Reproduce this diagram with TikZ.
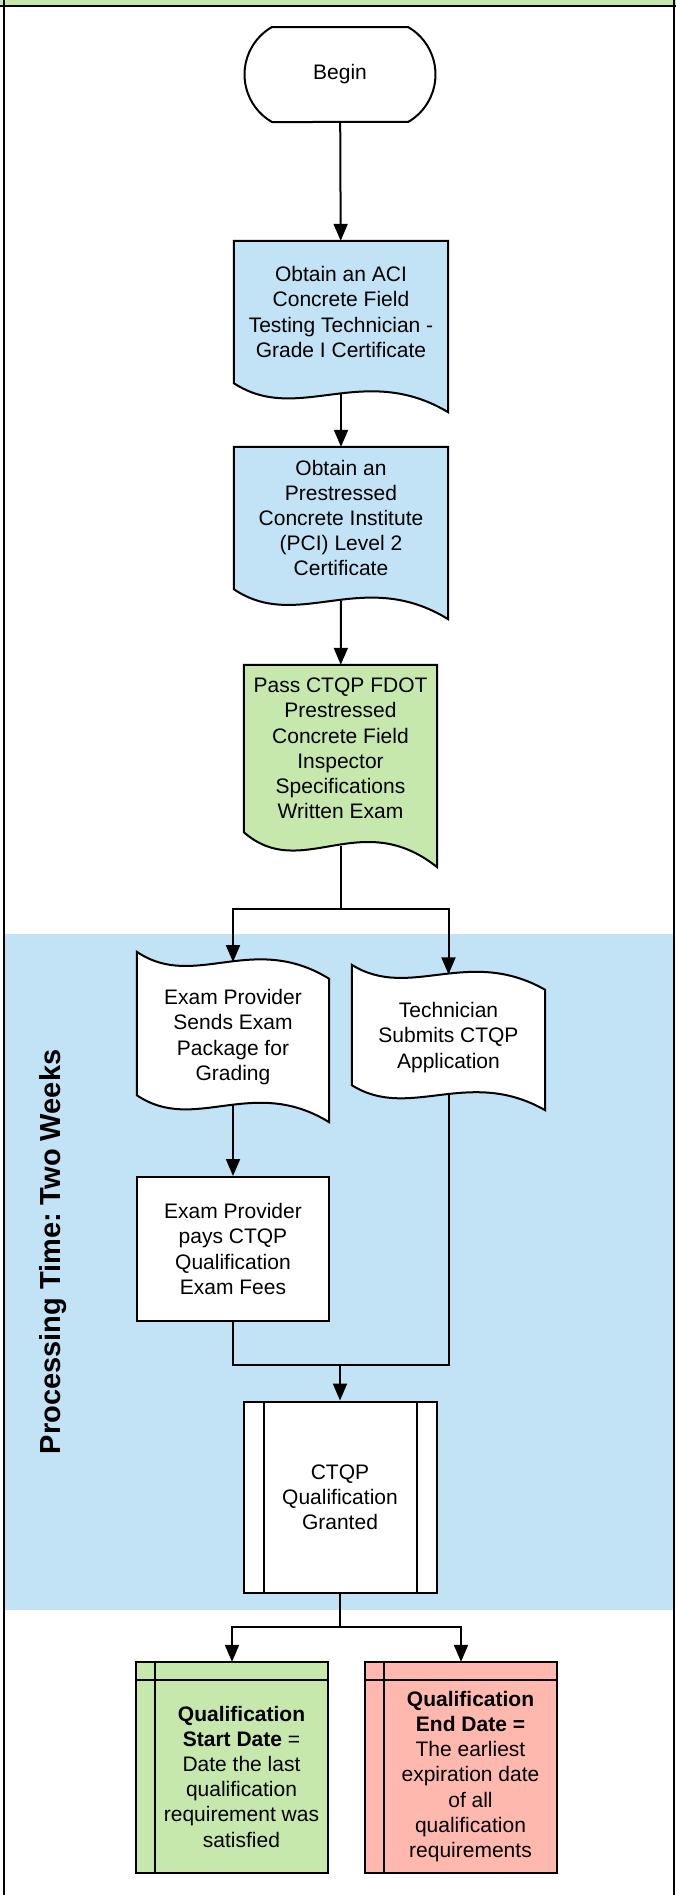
\documentclass[tikz,border=0pt]{standalone}
\usepackage{fontspec}
\setmainfont{Liberation Sans}
\usetikzlibrary{shapes.misc, calc, backgrounds, arrows.meta}
\frenchspacing

\definecolor{bandblue}{HTML}{C2E3F5}
\definecolor{passgreen}{HTML}{C7E8AC}
\definecolor{endred}{HTML}{FFB8AD}

% wavy bottom: node, fill, wave height
\newcommand{\docshape}[3]{%
  \draw[line width=2pt, fill=#2] (#1.north west) -- (#1.north east) -- ($(#1.south east)+(0,#3)$)
    .. controls ($(#1.south west)!0.6!(#1.south east)+(0,-0.76*#3)$) and ($(#1.south west)!0.3!(#1.south east)+(0,1.45*#3)$) .. (#1.south west) -- cycle;
  \coordinate (#1-out) at ($(#1.south)+(0,0.38*#3)$);
}
% wavy top and bottom: node, wave height
\newcommand{\tapeshape}[2]{%
  \draw[line width=2pt, fill=white] (#1.north west)
    .. controls ($(#1.north west)!0.3!(#1.north east)+(0,1.45*#2)$) and ($(#1.north west)!0.6!(#1.north east)+(0,-0.76*#2)$) .. ($(#1.north east)+(0,#2)$)
    -- (#1.south east)
    .. controls ($(#1.south west)!0.6!(#1.south east)+(0,-1.76*#2)$) and ($(#1.south west)!0.3!(#1.south east)+(0,0.45*#2)$) .. ($(#1.south west)+(0,-#2)$) -- cycle;
  \coordinate (#1-in) at ($(#1.north)+(0,0.38*#2)$);
  \coordinate (#1-out) at ($(#1.south)+(0,-0.62*#2)$);
}
% storage frame round the text area: node, fill
\newcommand{\storeframe}[2]{%
  \draw[line width=2pt, fill=#2] ($(#1.north west)+(-19,-18)$) rectangle (#1.south east);
  \draw[line width=2pt] ($(#1.north west)+(-19,0)$) -- (#1.north east);
  \draw[line width=2pt] ($(#1.north west)+(0,-18)$) -- (#1.south west);
  \coordinate (#1-in) at ($(#1.north)+(-9.5,-18)$);
}

\tikzset{
  txt/.style={align=center, inner sep=0pt, font=\fontsize{21}{25.2}\selectfont},
  box/.style={txt, draw, line width=2pt, fill=white},
  term/.style={box, rounded rectangle, rounded rectangle arc length=120, minimum width=191pt, minimum height=95pt},
  predef/.style={box, minimum width=193pt, minimum height=191pt,
    path picture={
      \draw[line width=2pt] ([xshift=20pt]path picture bounding box.north west) -- ([xshift=20pt]path picture bounding box.south west);
      \draw[line width=2pt] ([xshift=-20pt]path picture bounding box.north east) -- ([xshift=-20pt]path picture bounding box.south east);
    }},
  arr/.style={line width=2pt, -{Triangle[length=17pt,width=14pt]}},
  link/.style={line width=2pt}
}

\begin{document}
\begin{tikzpicture}[x=1pt, y=-1pt]
  \useasboundingbox (0,0) rectangle (676,1895);

  % nodes
  \node[term] (begin) at (340,74.5) {Begin};
  \node[txt, minimum width=214pt, minimum height=142pt] (aci) at (341,312)
    {Obtain an ACI\\Concrete Field\\Testing Technician -\\Grade I Certificate};
  \node[txt, minimum width=214pt, minimum height=142pt] (pci) at (341,518)
    {Obtain an\\Prestressed\\Concrete Institute\\(PCI) Level 2\\Certificate};
  \node[txt, minimum width=193pt, minimum height=167pt] (exam) at (340.5,748.5)
    {Pass CTQP FDOT\\Prestressed\\Concrete Field\\Inspector\\Specifications\\Written Exam};
  \node[txt, minimum width=192pt, minimum height=170pt] (sends) at (233,1037)
    {Exam Provider\\Sends Exam\\Package for\\Grading};
  \node[txt, minimum width=193pt, minimum height=145pt] (submits) at (448.5,1037.5)
    {Technician\\Submits CTQP\\Application};
  \node[box, minimum width=192pt, minimum height=144pt] (fees) at (233,1249)
    {Exam Provider\\pays CTQP\\Qualification\\Exam Fees};
  \node[predef] (granted) at (340,1497) {CTQP\\Qualification\\Granted};
  \node[txt, minimum width=173pt, minimum height=193pt] (startq) at (241.5,1776.5)
    {\textbf{Qualification}\\\textbf{Start Date} =\\Date the last\\qualification\\requirement was\\satisfied};
  \node[txt, minimum width=173pt, minimum height=193pt] (endq) at (470.5,1776.5)
    {\textbf{Qualification}\\\textbf{End Date =}\\The earliest\\expiration date\\of all\\qualification\\requirements};
  \node[rotate=90, font=\bfseries\fontsize{29}{34}\selectfont] (ptime) at (53,1252)
    {Processing Time: Two Weeks};

  % band, frame and shapes
  \begin{scope}[on background layer]
    \fill[bandblue] (5,934) rectangle (673,1610);
    \fill[passgreen] (0,0) rectangle (676,5);
    \draw[line width=2.5pt] (0,6) -- (676,6);
    \draw[line width=2.5pt] (4,0) -- (4,1895);
    \draw[line width=2.5pt] (674,0) -- (674,1895);
    \docshape{aci}{bandblue}{29}
    \docshape{pci}{bandblue}{30}
    \docshape{exam}{passgreen}{35}
    \tapeshape{sends}{27}
    \tapeshape{submits}{25}
    \storeframe{startq}{passgreen}
    \storeframe{endq}{endred}
  \end{scope}

  \coordinate (split) at (340.5,909);
  \coordinate (merge) at (340,1365);
  \coordinate (fork) at (340,1627);

  % connectors
  \draw[arr] (begin) -- (aci);
  \draw[arr] (aci-out) -- (pci);
  \draw[arr] (pci-out) -- (exam);
  \draw[link] (exam-out) -- (split);
  \draw[arr] (split) -| (sends-in);
  \draw[arr] (split) -| (submits-in);
  \draw[arr] (sends-out) -- (fees);
  \draw[link] (fees) |- (merge);
  \draw[link] (submits-out) |- (merge);
  \draw[arr] (merge) -- (granted);
  \draw[link] (granted) -- (fork);
  \draw[arr] (fork) -| (startq-in);
  \draw[arr] (fork) -| (endq-in);
\end{tikzpicture}
\end{document}
